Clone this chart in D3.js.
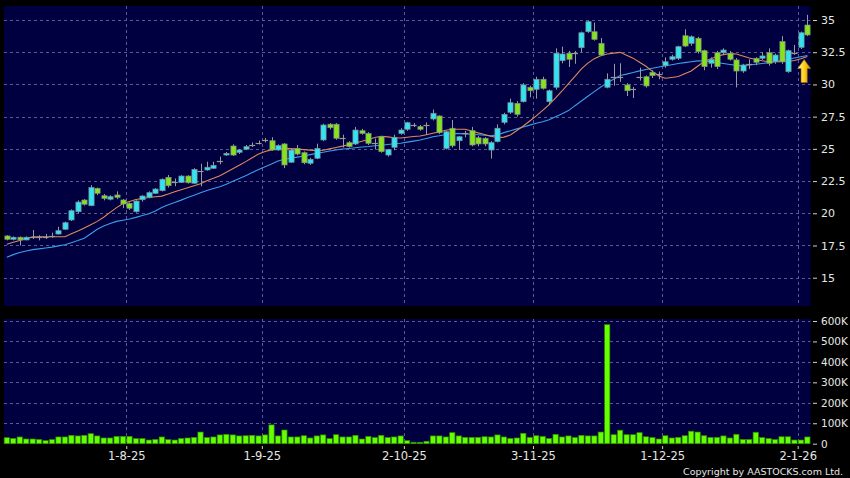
<!DOCTYPE html>
<html>
<head>
<meta charset="utf-8">
<script src="https://cdn.jsdelivr.net/npm/d3@7"></script>
<style>
  body { margin: 0; background: #000; }
  svg { display: block; font-family: "DejaVu Sans", Verdana, sans-serif; }
</style>
</head>
<body>
<svg id="chart" width="850" height="478"></svg>
<script>
// daily candles, 7 Jul 2025 .. 5 Jan 2026
var opens = [18.24,17.98,18.14,17.93,18.19,18.14,18.19,18.26,18.39,18.76,
  19.48,20.12,21.03,20.59,21.93,21.36,21.09,21.42,21.03,20.77,
  20.12,21.05,21.24,21.55,21.75,22.79,22.40,22.40,22.89,22.33,
  23.30,23.36,23.49,24.06,24.52,25.22,24.73,24.97,25.30,25.48,
  25.69,25.63,24.91,25.38,23.96,25.04,24.70,23.88,24.27,25.69,
  26.91,26.91,25.86,25.48,25.38,26.41,26.20,25.48,25.94,24.52,
  25.12,26.20,26.52,26.85,26.72,26.85,27.32,27.55,25.04,26.60,
  25.63,26.20,26.41,25.86,25.82,24.91,25.56,27.06,27.84,28.53,
  28.66,29.78,29.62,30.40,28.66,29.78,31.84,32.42,32.46,32.85,
  34.09,34.09,33.19,29.78,30.60,30.55,29.96,29.68,30.55,30.60,
  30.94,30.78,31.45,31.95,32.03,33.78,33.19,33.58,32.62,31.64,
  32.46,32.46,32.42,31.90,31.04,31.60,32.03,32.03,32.46,31.76,
  33.32,30.99,32.46,32.88,34.61];
var highs = [18.30,18.20,18.20,18.20,18.70,18.30,18.40,18.50,18.95,19.35,
  20.30,21.00,21.10,22.18,22.00,21.50,21.40,21.70,21.10,20.85,
  21.00,21.40,21.70,21.95,22.70,22.97,22.70,22.95,22.95,23.50,
  23.85,24.00,24.00,24.40,24.75,25.35,25.00,25.30,25.50,25.65,
  25.85,25.90,25.35,25.45,25.00,25.30,24.80,24.30,25.40,26.95,
  27.00,27.00,26.10,25.60,26.70,26.55,26.30,25.80,26.00,25.00,
  26.10,26.60,27.10,27.00,26.85,27.05,28.05,27.60,26.40,27.24,
  26.00,26.40,26.70,26.00,25.90,25.60,26.90,27.80,28.90,28.70,
  30.10,29.90,30.60,30.60,29.60,32.80,32.93,32.60,32.60,34.10,
  34.95,34.80,33.60,30.86,31.60,31.64,30.10,29.80,31.30,30.70,
  31.10,31.00,32.10,32.30,33.00,34.28,33.80,33.70,32.70,32.10,
  32.60,32.80,32.60,32.05,31.60,31.95,32.10,32.50,32.80,32.40,
  33.75,32.70,33.07,34.10,35.40];
var lows = [17.90,17.90,17.50,17.90,18.00,17.90,18.00,18.10,18.35,18.70,
  19.40,20.00,20.60,20.55,21.40,21.00,21.00,21.10,20.40,20.25,
  20.05,20.90,21.15,21.50,21.70,22.00,22.10,22.35,22.30,22.30,
  22.10,23.30,23.45,23.80,24.45,24.45,24.60,24.90,25.15,25.35,
  25.50,24.85,24.85,23.50,23.90,24.50,23.80,23.75,24.20,25.60,
  26.50,25.70,25.10,25.10,25.30,26.10,25.30,24.95,24.70,24.40,
  24.90,26.10,26.40,26.70,26.40,26.10,27.20,26.15,24.95,25.10,
  24.91,25.90,25.20,25.20,25.20,24.24,25.50,26.90,27.70,27.50,
  28.60,29.00,28.90,29.60,28.40,29.60,31.64,31.35,31.60,32.50,
  34.00,33.40,32.20,29.70,29.90,30.20,29.10,28.95,30.30,29.75,
  30.50,30.40,31.30,31.85,31.90,32.90,33.00,32.40,31.10,31.30,
  31.20,32.30,31.85,29.77,30.90,31.20,31.50,31.90,31.45,31.60,
  31.60,30.90,32.30,32.75,33.75];
var closes = [17.98,18.14,17.93,18.14,18.19,18.14,18.19,18.26,18.65,19.27,
  20.20,20.87,20.70,22.00,21.55,21.16,21.29,21.24,20.72,20.39,
  20.95,21.34,21.60,21.88,22.64,22.14,22.40,22.89,22.37,23.41,
  23.30,23.57,23.72,24.06,24.65,24.52,24.91,25.17,25.30,25.48,
  25.69,24.91,25.25,23.75,24.91,24.60,23.92,24.19,25.04,26.85,
  26.64,25.82,25.86,25.17,26.46,26.20,25.43,25.48,24.78,24.96,
  25.90,26.46,27.03,26.85,26.52,26.85,27.76,26.25,26.33,25.24,
  25.94,26.20,25.30,25.38,25.38,25.48,26.60,27.68,28.58,27.68,
  29.96,29.51,30.40,29.70,29.51,32.42,32.36,31.95,32.46,34.01,
  34.87,33.50,32.28,30.40,30.60,30.55,29.51,29.68,30.55,29.88,
  30.68,30.78,31.76,32.15,32.93,32.98,33.70,32.54,31.38,31.95,
  31.38,32.67,31.95,31.04,31.51,31.60,31.72,32.21,31.64,32.28,
  31.76,32.62,32.46,34.01,33.84];
var volumes = [29.5,26,33,23,23,21,15,20,33,33,
  41,38,41,49,38,28,28,36,36,36,
  25,25,18,21,33,20,18,26,28,31,
  57,30,33,43,46,43,38,39,41,38,
  43,92,38,67,33,33,39,28,38,43,
  25,44,33,33,41,23,36,30,41,30,
  33,38,15,7,7,12,38,38,33,54,
  38,31,31,31,34,33,43,33,26,28,
  51,31,39,36,26,46,33,38,30,41,
  38,38,57,582,44,66,44,44,54,34,
  30,23,39,28,31,39,61,57,39,31,
  31,38,28,46,21,21,56,30,25,20,
  34,34,18,18,33].map(function(v) { return v * 1000; });
// moving averages
var maShort = [17.60,17.75,17.89,18.03,18.17,18.18,18.18,18.18,18.18,18.18,
  18.42,18.62,18.86,19.11,19.37,19.69,20.07,20.44,20.75,20.92,
  21.07,21.15,21.22,21.28,21.33,21.49,21.67,21.83,21.98,22.13,
  22.29,22.52,22.71,22.92,23.19,23.45,23.72,24.01,24.31,24.60,
  24.80,24.92,25.03,25.04,25.02,24.98,24.94,24.90,24.86,24.89,
  25.00,25.10,25.21,25.34,25.46,25.59,25.73,25.88,25.98,25.93,
  25.86,25.84,25.90,25.96,26.00,26.10,26.21,26.33,26.45,26.52,
  26.52,26.52,26.39,26.24,26.11,25.98,25.87,25.91,26.08,26.42,
  26.77,27.16,27.56,27.99,28.43,28.95,29.49,30.06,30.62,31.20,
  31.65,32.00,32.23,32.36,32.43,32.49,32.26,32.04,31.72,31.41,
  31.01,30.65,30.48,30.54,30.61,30.82,31.04,31.41,31.78,31.98,
  32.18,32.31,32.39,32.36,32.21,32.05,31.94,31.84,31.76,31.76,
  31.76,31.78,31.86,32.00,32.17];
var maLong = [16.58,16.79,16.95,17.07,17.18,17.24,17.30,17.37,17.47,17.56,
  17.72,17.88,18.06,18.41,18.76,19.02,19.20,19.37,19.46,19.56,
  19.68,19.82,19.97,20.18,20.45,20.67,20.84,21.02,21.22,21.40,
  21.59,21.77,21.92,22.06,22.26,22.48,22.69,22.92,23.16,23.39,
  23.61,23.83,24.06,24.19,24.27,24.36,24.45,24.55,24.65,24.74,
  24.83,24.91,24.99,25.03,25.08,25.14,25.18,25.24,25.28,25.34,
  25.39,25.44,25.52,25.60,25.69,25.81,25.94,26.02,26.11,26.19,
  26.18,26.16,26.13,26.09,26.06,26.01,26.09,26.26,26.40,26.55,
  26.69,26.84,26.99,27.10,27.26,27.50,27.72,27.97,28.35,28.71,
  29.08,29.44,29.80,30.12,30.40,30.69,30.80,30.92,31.05,31.16,
  31.25,31.35,31.45,31.53,31.62,31.69,31.76,31.83,31.82,31.76,
  31.69,31.62,31.55,31.48,31.45,31.51,31.56,31.62,31.69,31.77,
  31.85,31.95,32.05,32.15,32.24];

var priceTicks = [15, 17.5, 20, 22.5, 25, 27.5, 30, 32.5, 35];
var volTicks = [0, 100000, 200000, 300000, 400000, 500000, 600000];
var dateTickIdx = [19, 40, 62, 82, 102, 123];
var dateTickLabels = ["1-8-25", "1-9-25", "2-10-25", "3-11-25", "1-12-25", "2-1-26"];

var svg = d3.select("#chart");
var n = closes.length;

var x = d3.scaleBand().domain(d3.range(n)).range([3.6, 810.6]);
var step = x.step();
function cx(i) { return x(i) + step / 2; }
var xEdge = d3.scaleLinear().domain([0, n]).range([3.6, 810.6]);
var y = d3.scaleLinear().domain([15, 35]).range([277.7, 20]);
var yv = d3.scaleLinear().domain([0, 600000]).range([443.7, 321]);

var gridColor = "#5a5a8e";
var panelColor = "#000040";

// panels
svg.append("rect").attr("x", 4).attr("y", 6).attr("width", 806.6).attr("height", 300).attr("fill", panelColor);
svg.append("rect").attr("x", 4).attr("y", 319).attr("width", 806.6).attr("height", 125).attr("fill", panelColor);

// grids
var grid = svg.append("g").attr("stroke", gridColor).attr("stroke-width", 1).attr("stroke-dasharray", "3,3");
grid.selectAll(".hp").data(priceTicks).enter().append("line")
  .attr("x1", 4).attr("x2", 810.6)
  .attr("y1", function(d) { return Math.round(y(d)) + 0.5; })
  .attr("y2", function(d) { return Math.round(y(d)) + 0.5; });
grid.selectAll(".hv").data(volTicks.slice(1)).enter().append("line")
  .attr("x1", 4).attr("x2", 810.6)
  .attr("y1", function(d) { return Math.round(yv(d)) + 0.5; })
  .attr("y2", function(d) { return Math.round(yv(d)) + 0.5; });
dateTickIdx.forEach(function(i) {
  var gx = Math.round(xEdge(i)) + 0.5;
  grid.append("line").attr("x1", gx).attr("x2", gx).attr("y1", 6).attr("y2", 306);
  grid.append("line").attr("x1", gx).attr("x2", gx).attr("y1", 319).attr("y2", 444);
});

// moving averages
var maLine = d3.line().x(function(d, i) { return cx(i); }).y(function(d) { return y(d); });
svg.append("path").datum(maLong).attr("d", maLine)
  .attr("fill", "none").attr("stroke", "#3a9ee8").attr("stroke-width", 1.1);
svg.append("path").datum(maShort).attr("d", maLine)
  .attr("fill", "none").attr("stroke", "#e0875a").attr("stroke-width", 1.1);

// candles
var upColor = "#33e3f2", downColor = "#86e21c", flatColor = "#9a9a9a";
var candle = svg.append("g").selectAll("g").data(d3.range(n)).enter().append("g");
candle.append("line")
  .attr("x1", function(i) { return Math.round(cx(i)) + 0.5; })
  .attr("x2", function(i) { return Math.round(cx(i)) + 0.5; })
  .attr("y1", function(i) { return y(highs[i]); })
  .attr("y2", function(i) { return y(lows[i]); })
  .attr("stroke", "#9a9a9a").attr("stroke-width", 1);
candle.filter(function(i) { return opens[i] !== closes[i]; }).append("rect")
  .attr("x", function(i) { return Math.round(cx(i)) + 0.5 - 2.6; })
  .attr("width", 5.2)
  .attr("y", function(i) { return y(Math.max(opens[i], closes[i])); })
  .attr("height", function(i) { return Math.max(1.5, Math.abs(y(opens[i]) - y(closes[i]))); })
  .attr("fill", function(i) { return closes[i] > opens[i] ? upColor : downColor; })
  .attr("stroke", "#7c8c8c").attr("stroke-width", 0.7);
candle.filter(function(i) { return opens[i] === closes[i]; }).append("line")
  .attr("x1", function(i) { return cx(i) - 3; })
  .attr("x2", function(i) { return cx(i) + 3; })
  .attr("y1", function(i) { return Math.round(y(closes[i])) + 0.5; })
  .attr("y2", function(i) { return Math.round(y(closes[i])) + 0.5; })
  .attr("stroke", flatColor).attr("stroke-width", 1.2);

// volume bars
svg.append("g").selectAll("rect").data(volumes).enter().append("rect")
  .attr("x", function(d, i) { return x(i) + 0.6; })
  .attr("width", step - 1.2)
  .attr("y", function(d) { return yv(d); })
  .attr("height", function(d) { return yv(0) - yv(d); })
  .attr("fill", "#66ff00").attr("stroke", "#2e8a00").attr("stroke-width", 0.7);

// arrow marker at the latest bar
var defs = svg.append("defs");
var grad = defs.append("linearGradient").attr("id", "arrowGrad").attr("x1", "0").attr("x2", "1").attr("y1", "0").attr("y2", "0");
grad.append("stop").attr("offset", "0").attr("stop-color", "#fff7a0");
grad.append("stop").attr("offset", "0.5").attr("stop-color", "#ffd21a");
grad.append("stop").attr("offset", "1").attr("stop-color", "#d98a00");
var ax = (cx(n - 2) + cx(n - 1)) / 2, ay = y(maLong[n - 1]) + 4;
svg.append("path")
  .attr("d", "M" + ax + "," + ay + " l6.5,9 h-3.4 v14 h-6.2 v-14 h-3.4 z")
  .attr("fill", "url(#arrowGrad)").attr("stroke", "#a06a00").attr("stroke-width", 0.6);

// axes
var txtColor = "#e6e6e6";
function styleAxis(size) {
  return function(g) {
    g.select(".domain").remove();
    g.selectAll(".tick line").attr("stroke", "#cfcfcf");
    g.selectAll(".tick text").attr("fill", txtColor).style("font-size", size).style("font-family", "DejaVu Sans, Verdana, sans-serif");
  };
}
svg.append("g").attr("transform", "translate(813,0)")
  .call(d3.axisRight(y).tickValues(priceTicks).tickSize(4).tickPadding(4).tickFormat(function(d) { return d; }))
  .call(styleAxis("11px"));
svg.append("g").attr("transform", "translate(813,0)")
  .call(d3.axisRight(yv).tickValues(volTicks).tickSize(4).tickPadding(4)
    .tickFormat(function(d) { return d === 0 ? "0" : (d / 1000) + "K"; }))
  .call(styleAxis("10.5px"));
svg.append("g").attr("transform", "translate(0,446)")
  .call(d3.axisBottom(xEdge).tickValues(dateTickIdx).tickSize(3).tickPadding(3)
    .tickFormat(function(d, k) { return dateTickLabels[k]; }))
  .call(styleAxis("11.5px"));

svg.append("text").attr("x", 843).attr("y", 474.5).attr("text-anchor", "end")
  .attr("fill", txtColor).style("font-size", "9.5px")
  .text("Copyright by AASTOCKS.com Ltd.");
</script>
</body>
</html>
